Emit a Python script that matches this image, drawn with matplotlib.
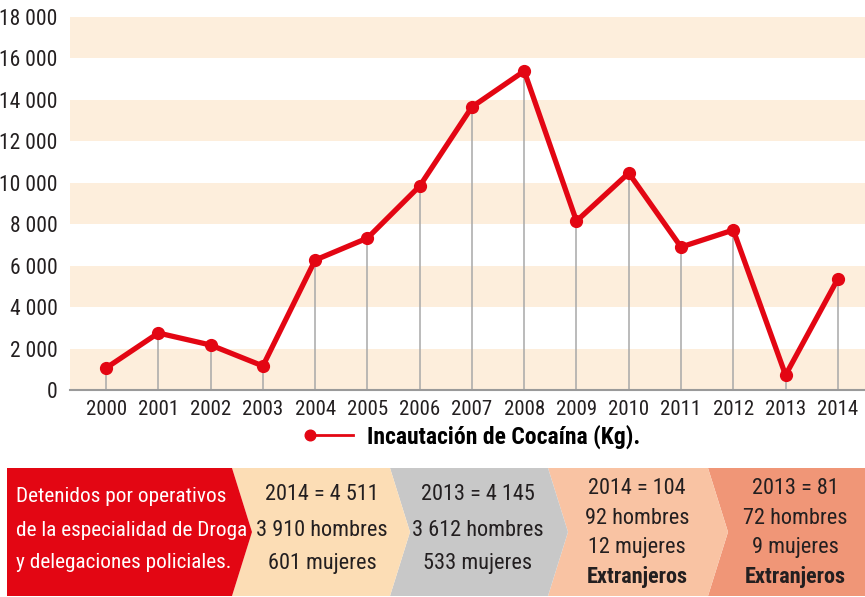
import matplotlib.pyplot as plt
from matplotlib import font_manager
from matplotlib.patches import Polygon

# pick a narrow sans face if one is installed
fams = {}
for f in font_manager.fontManager.ttflist:
    fams.setdefault(f.name, []).append(f.stretch)
narrow = None
for name in ['Liberation Sans Narrow', 'Roboto Condensed', 'Open Sans Condensed',
             'Noto Sans Condensed', 'DejaVu Sans Condensed']:
    if name in fams:
        narrow = name
        break
stretch = 'normal'
if narrow is None:
    for name in ['Roboto', 'Open Sans', 'Noto Sans', 'DejaVu Sans']:
        if any(s in ('condensed', 'semi-condensed', 'extra-condensed', 75, 87.5)
               for s in fams.get(name, [])):
            narrow, stretch = name, 'condensed'
            break
if narrow is None:
    narrow = 'Liberation Sans'
plt.rcParams['font.family'] = [narrow, 'DejaVu Sans']
plt.rcParams['font.stretch'] = stretch

# cocaine seizures per year (kg)
years = [2000, 2001, 2002, 2003, 2004, 2005, 2006, 2007,
         2008, 2009, 2010, 2011, 2012, 2013, 2014]
seized_kg = [1060, 2750, 2170, 1160, 6270, 7330, 9840, 13660,
             15390, 8150, 10470, 6900, 7720, 720, 5360]
yticks = [0, 2000, 4000, 6000, 8000, 10000, 12000, 14000, 16000, 18000]
ytick_labels = ['0', '2 000', '4 000', '6 000', '8 000', '10 000',
                '12 000', '14 000', '16 000', '18 000']
legend_label = 'Incautación de Cocaína (Kg).'

# arrest boxes at the bottom
box_texts = [
    ['Detenidos por operativos', 'de la especialidad de Droga', 'y delegaciones policiales.'],
    ['2014 = 4 511', '3 910 hombres', '601 mujeres'],
    ['2013 = 4 145', '3 612 hombres', '533 mujeres'],
    ['2014 = 104', '92 hombres', '12 mujeres', 'Extranjeros'],
    ['2013 = 81', '72 hombres', '9 mujeres', 'Extranjeros'],
]
box_colors = ['#E30613', '#FCDDB5', '#C8C8C8', '#F9C3A3', '#F09677']

RED = '#E30613'
BAND = '#FDEEDC'
TXT = '#231F20'
k = 1.0 if narrow != 'Liberation Sans' else 0.85

W, H = 865, 597
fig = plt.figure(figsize=(W / 100, H / 100), dpi=100)

# main line chart
ax = fig.add_axes([70 / W, 1 - 390 / H, (W - 70) / W, (390 - 17) / H])
ax.set_xlim(1999.31, 2014.52)
ax.set_ylim(0, 18000)
for lo in range(0, 18000, 4000):
    ax.axhspan(lo, lo + 2000, color=BAND, lw=0, zorder=0)
ax.vlines(years, 0, seized_kg, color='#A8A8A8', lw=1.1, zorder=1)
line, = ax.plot(years, seized_kg, color=RED, lw=3.8, marker='o', ms=8.5,
                solid_joinstyle='round', zorder=3)
for s in ['top', 'right', 'left']:
    ax.spines[s].set_visible(False)
ax.spines['bottom'].set_color('#9A9A9A')
ax.spines['bottom'].set_linewidth(1.5)
ax.set_xticks(years)
ax.set_xticklabels([str(y) for y in years], fontsize=15 * k, color=TXT)
ax.set_yticks(yticks)
ax.set_yticklabels(ytick_labels, fontsize=15.5 * k, color=TXT)
ax.tick_params(axis='x', length=0, pad=7)
ax.tick_params(axis='y', length=0, pad=9)

# legend below the axis
ax.legend([line], [legend_label], loc='center', bbox_to_anchor=(0.51, -0.125),
          frameon=False, handlelength=1.8, handletextpad=0.6,
          prop={'weight': 'bold', 'size': 17 * k}, markerscale=0.9)
for h in ax.get_legend().legend_handles:
    h.set_linewidth(2)
    h.set_markevery([0])

# chevron strip in pixel coordinates
bx = fig.add_axes([0, 0, 1, 1], zorder=-1)
bx.set_xlim(0, W)
bx.set_ylim(H, 0)
bx.axis('off')
top, bot, mid = 468, 596, 532
edges = [(7, 232, 252), (232, 390, 410), (390, 548, 568), (548, 708, 728), (708, 865, 865)]
for i, (x0, x1, tip) in enumerate(edges):
    if i == 0:
        pts = [(x0, top), (x1, top), (tip, mid), (x1, bot), (x0, bot)]
    else:
        prev = edges[i - 1]
        pts = [(prev[1], top), (x1, top), (tip, mid), (x1, bot), (prev[1], bot),
               (prev[2], mid)]
    bx.add_patch(Polygon(pts, closed=True, color=box_colors[i], lw=0, zorder=len(edges) - i))

# red box text
for j, t in enumerate(box_texts[0]):
    bx.text(16, 497 + j * 33, t, color='white', fontsize=15.3 * k, ha='left', va='center', zorder=10)

centers = [322, 478, 637, 795]
for c, lines in zip(centers, box_texts[1:]):
    if len(lines) == 3:
        ys = [494, 530, 563]
    else:
        ys = [489, 518, 547, 577]
    for t, y in zip(lines, ys):
        bold = t == 'Extranjeros'
        bx.text(c, y, t, color=TXT, fontsize=16 * k, ha='center', va='center',
                fontweight='bold' if bold else 'normal', zorder=10)

fig.savefig('out.png', dpi=100)
